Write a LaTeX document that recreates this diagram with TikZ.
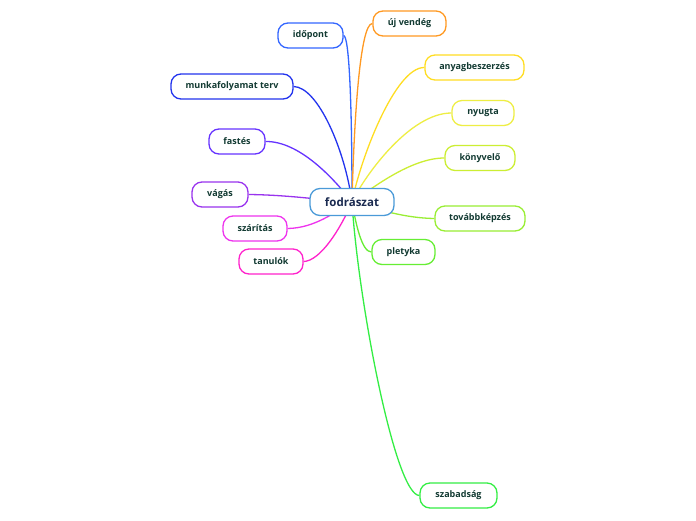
\documentclass[tikz,border=0pt]{standalone}
\usepackage{fontspec}
\setmainfont{Open Sans}
\usetikzlibrary{backgrounds}
\definecolor{txt}{HTML}{123A32}
\definecolor{roottxt}{HTML}{1A2A50}
\definecolor{rootc}{HTML}{4A9AD8}
\definecolor{cidopont}{HTML}{3366FF}
\definecolor{cmunka}{HTML}{2233EE}
\definecolor{cfastes}{HTML}{6633FF}
\definecolor{cvagas}{HTML}{9933EE}
\definecolor{cszaritas}{HTML}{EE33EE}
\definecolor{ctanulok}{HTML}{FF22CC}
\definecolor{cuj}{HTML}{FF9922}
\definecolor{canyag}{HTML}{FFDD22}
\definecolor{cnyugta}{HTML}{EEEE44}
\definecolor{ckonyv}{HTML}{CCEE33}
\definecolor{ctovabb}{HTML}{99EE33}
\definecolor{cpletyka}{HTML}{66EE33}
\definecolor{cszabad}{HTML}{33EE44}
\tikzset{
  child/.style={draw=#1, line width=1.3pt, rounded corners=10pt, fill=white,
    minimum height=25pt, inner xsep=2pt, inner ysep=0pt, text=txt,
    font=\fontsize{9}{10}\selectfont\bfseries},
  rootbox/.style={draw=rootc, line width=1.3pt, rounded corners=10pt, fill=white,
    minimum height=27pt, minimum width=84pt, inner xsep=2pt, text=roottxt,
    font=\fontsize{11.5}{13}\selectfont\bfseries},
  edge/.style={draw=#1, line width=1.3pt}
}
\begin{document}
\begin{tikzpicture}[x=1pt,y=-1pt]
\useasboundingbox (0,0) rectangle (696,520);
\node[rootbox] (root) at (352,202) {fodrászat};
\node[child=cidopont, minimum width=65pt] (idopont) at (310.5,35.5) {időpont};
\node[child=cmunka, minimum width=122pt] (munka) at (232,86.5) {munkafolyamat terv};
\node[child=cfastes, minimum width=56pt] (fastes) at (237,141.5) {fastés};
\node[child=cvagas, minimum width=56pt] (vagas) at (220,194.5) {vágás};
\node[child=cszaritas, minimum width=64pt] (szaritas) at (255,228.5) {szárítás};
\node[child=ctanulok, minimum width=64pt] (tanulok) at (271,261.5) {tanulók};
\node[child=cuj, minimum width=73pt] (uj) at (409.5,23.5) {új vendég};
\node[child=canyag, minimum width=99pt] (anyag) at (474.5,67.5) {anyagbeszerzés};
\node[child=cnyugta, minimum width=62pt] (nyugta) at (483,113) {nyugta};
\node[child=ckonyv, minimum width=70pt] (konyv) at (480,158) {könyvelő};
\node[child=ctovabb, minimum width=90pt] (tovabb) at (480,218.5) {továbbképzés};
\node[child=cpletyka, minimum width=63pt] (pletyka) at (403.5,252) {pletyka};
\node[child=cszabad, minimum width=77pt] (szabad) at (458.5,495.5) {szabadság};
\begin{scope}[on background layer]
\fill[white] (0,0) rectangle (696,520);
\draw[edge=cidopont] (idopont.east) .. controls (349,36) and (352,100) .. (root.center);
\draw[edge=cmunka] (munka.east) .. controls (318,87) and (345,150) .. (root.center);
\draw[edge=cfastes] (fastes.east) .. controls (300,141) and (335,180) .. (root.center);
\draw[edge=cvagas] (vagas.east) .. controls (290,195) and (320,200) .. (root.center);
\draw[edge=cszaritas] (szaritas.east) .. controls (315,228) and (335,212) .. (root.center);
\draw[edge=ctanulok] (tanulok.east) .. controls (320,261) and (340,230) .. (root.center);
\draw[edge=cuj] (uj.west) .. controls (360,23.5) and (354,120) .. (root.center);
\draw[edge=canyag] (anyag.west) .. controls (395,67) and (360,160) .. (root.center);
\draw[edge=cnyugta] (nyugta.west) .. controls (410,113) and (365,175) .. (root.center);
\draw[edge=ckonyv] (konyv.west) .. controls (410,158) and (370,190) .. (root.center);
\draw[edge=ctovabb] (tovabb.west) .. controls (405,218) and (380,210) .. (root.center);
\draw[edge=cpletyka] (pletyka.west) .. controls (362,252) and (356,225) .. (root.center);
\draw[edge=cszabad] (szabad.west) .. controls (395,495) and (358,300) .. (root.center);
\end{scope}
\end{tikzpicture}
\end{document}
